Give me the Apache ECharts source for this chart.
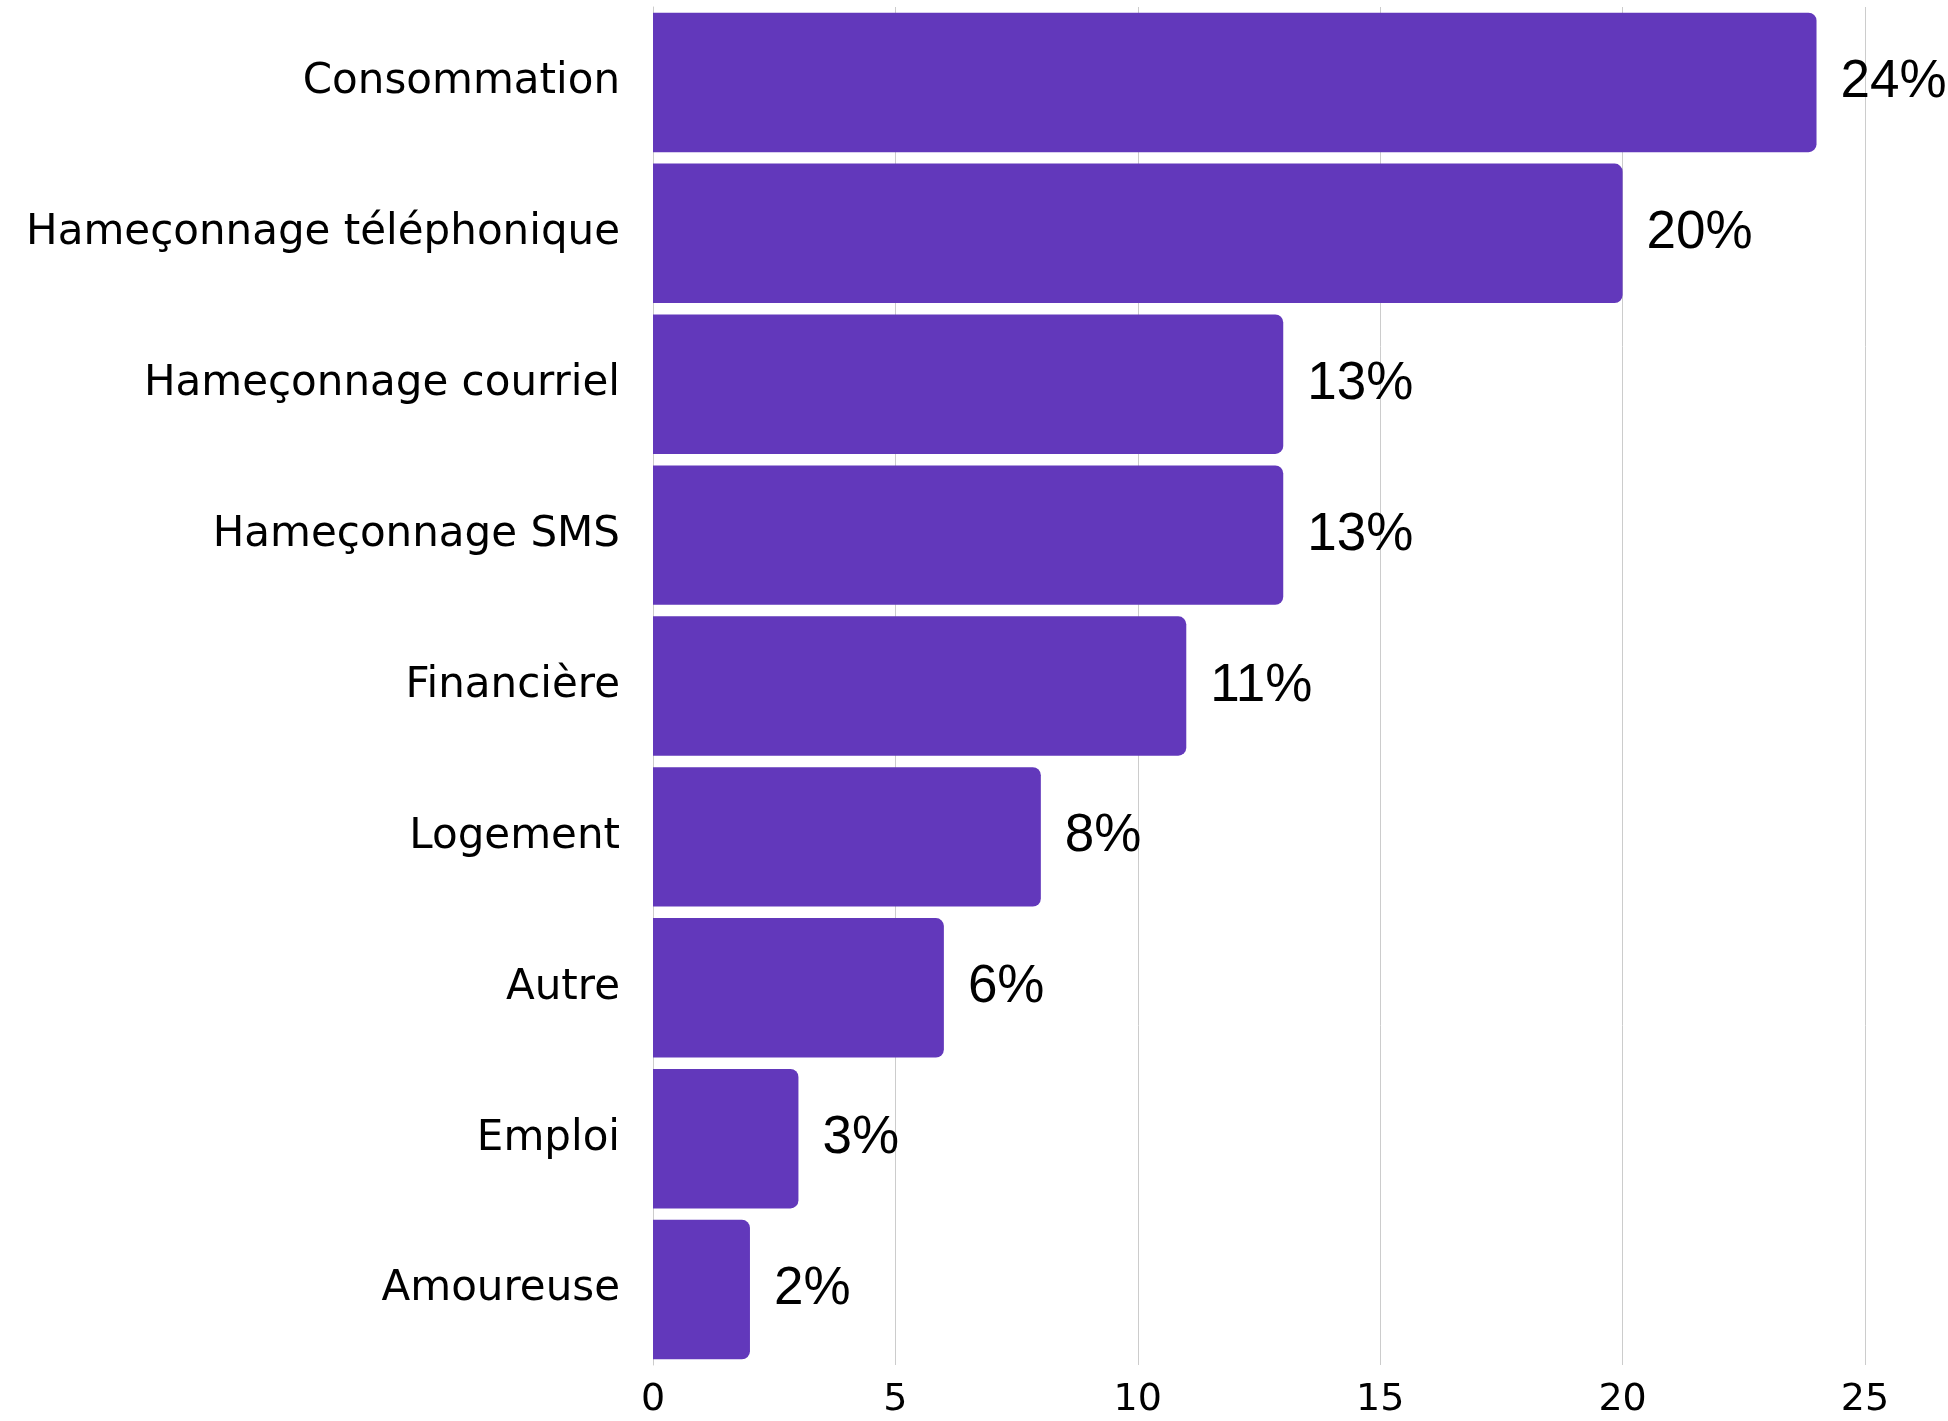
<!DOCTYPE html>
<html>
<head>
<meta charset="utf-8">
<script src="https://cdn.jsdelivr.net/npm/echarts@6/dist/echarts.min.js"></script>
<style>
html,body{margin:0;padding:0;background:#fff;}
#chart{width:1948px;height:1421px;}
</style>
</head>
<body>
<div id="chart"></div>
<script>
const categories = ["Consommation","Hameçonnage téléphonique","Hameçonnage courriel","Hameçonnage SMS","Financière","Logement","Autre","Emploi","Amoureuse"];
const values = [24,20,13,13,11,8,6,3,2];
const xTicks = [0,5,10,15,20,25];

const chart = echarts.init(document.getElementById('chart'));
chart.setOption({
  animation:false,
  backgroundColor:'#ffffff',
  grid:{left:653,right:83,top:7,bottom:56,containLabel:false},
  xAxis:{
    type:'value',min:xTicks[0],max:xTicks[xTicks.length-1],interval:5,
    axisLine:{show:false},axisTick:{show:false},
    splitLine:{show:true,lineStyle:{color:'#cccccc',width:1}},
    axisLabel:{fontFamily:'DejaVu Sans',fontSize:38,color:'#000',margin:16}
  },
  yAxis:{
    type:'category',data:categories,inverse:true,
    axisLine:{show:true,lineStyle:{color:'#cccccc'}},axisTick:{show:false},
    axisLabel:{fontFamily:'DejaVu Sans',fontSize:42,color:'#000',margin:33}
  },
  series:[{
    type:'bar',data:values,barCategoryGap:'7.6%',
    itemStyle:{color:'#6238bb',borderRadius:[0,8,8,0]},
    label:{show:true,position:'right',distance:24,formatter:'{c}%',
      fontFamily:'Liberation Sans',fontSize:53,fontWeight:400,color:'#000'}
  }]
});
</script>
</body>
</html>
